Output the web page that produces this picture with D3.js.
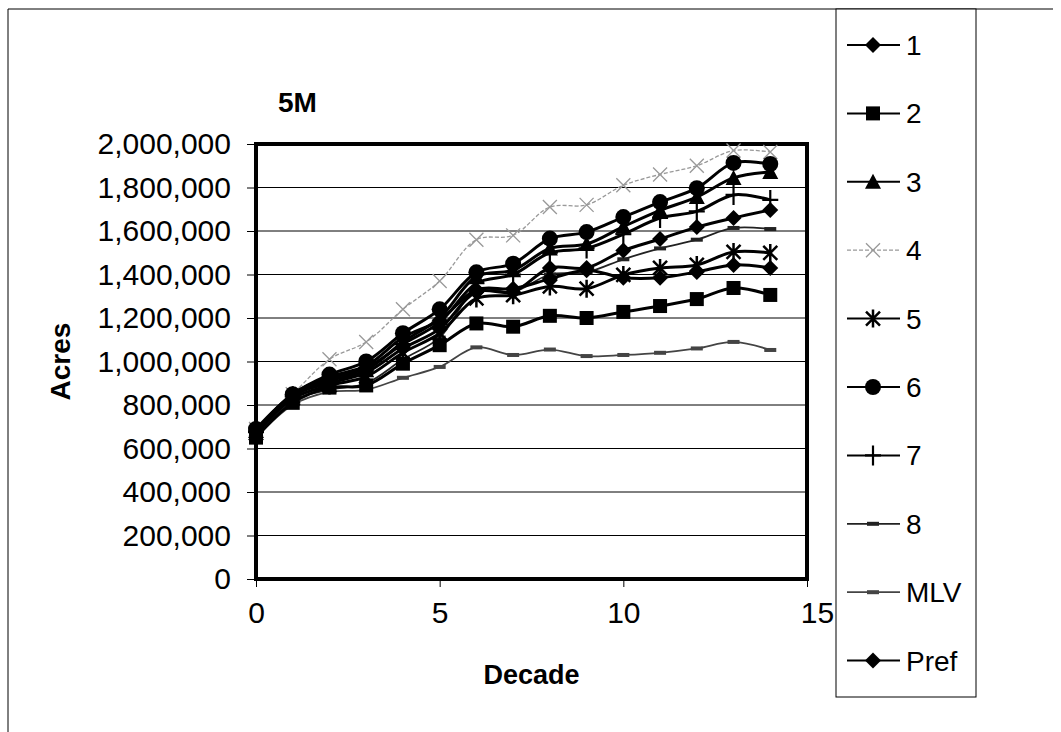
<!DOCTYPE html>
<html>
<head>
<meta charset="utf-8">
<script src="https://cdn.jsdelivr.net/npm/d3@7"></script>
<style>
    body { margin: 0; background: #fff; }
    svg { display: block; font-family: Arial, "Liberation Sans", sans-serif; }
</style>
</head>
<body>
<div id="chart"></div>
<script>
const decades = [0, 1, 2, 3, 4, 5, 6, 7, 8, 9, 10, 11, 12, 13, 14];
const yTicks = [0, 200000, 400000, 600000, 800000, 1000000, 1200000, 1400000, 1600000, 1800000, 2000000];
const xTicks = [0, 5, 10, 15];

const seriesNames = ["1", "2", "3", "4", "5", "6", "7", "8", "MLV", "Pref"];

// values in acres
const s1 = [680000, 850000, 930000, 980000, 1110000, 1190000, 1330000, 1335000, 1380000, 1420000, 1385000, 1385000, 1412000, 1444000, 1430000];
const s2 = [650000, 810000, 880000, 890000, 990000, 1075000, 1175000, 1160000, 1210000, 1200000, 1228000, 1255000, 1287000, 1338000, 1306000];
const s3 = [680000, 840000, 910000, 960000, 1090000, 1200000, 1390000, 1420000, 1520000, 1540000, 1620000, 1695000, 1756000, 1844000, 1871000];
const s4 = [690000, 850000, 1010000, 1090000, 1240000, 1370000, 1560000, 1580000, 1710000, 1720000, 1810000, 1860000, 1900000, 1970000, 1963000];
const s5 = [670000, 830000, 890000, 930000, 1040000, 1130000, 1290000, 1305000, 1345000, 1335000, 1398000, 1430000, 1444000, 1504000, 1499000];
const s6 = [690000, 850000, 940000, 1000000, 1130000, 1240000, 1410000, 1450000, 1565000, 1595000, 1664000, 1733000, 1797000, 1913000, 1908000];
const s7 = [675000, 840000, 920000, 970000, 1080000, 1180000, 1360000, 1400000, 1500000, 1520000, 1585000, 1660000, 1690000, 1766000, 1743000];
const s8 = [660000, 820000, 870000, 900000, 1010000, 1110000, 1330000, 1320000, 1400000, 1410000, 1470000, 1520000, 1560000, 1614000, 1609000];
const sMLV = [650000, 800000, 860000, 870000, 925000, 975000, 1065000, 1030000, 1055000, 1025000, 1030000, 1040000, 1060000, 1090000, 1053000];
const sPref = [680000, 845000, 900000, 950000, 1060000, 1150000, 1320000, 1320000, 1430000, 1430000, 1510000, 1563000, 1618000, 1660000, 1697000];

const seriesValues = [s1, s2, s3, s4, s5, s6, s7, s8, sMLV, sPref];

const styles = {
    "1":    { marker: "diamond",  stroke: "#000", width: 3, dash: null },
    "2":    { marker: "square",   stroke: "#000", width: 3, dash: null },
    "3":    { marker: "triangle", stroke: "#000", width: 3, dash: null },
    "4":    { marker: "x",        stroke: "#999", width: 1.3, dash: "4,2" },
    "5":    { marker: "star",     stroke: "#000", width: 3, dash: null },
    "6":    { marker: "circle",   stroke: "#000", width: 3, dash: null },
    "7":    { marker: "plus",     stroke: "#000", width: 3, dash: null },
    "8":    { marker: "dash",     stroke: "#222", width: 1.8, dash: null },
    "MLV":  { marker: "dash",     stroke: "#444", width: 1.8, dash: null },
    "Pref": { marker: "diamond",  stroke: "#000", width: 3, dash: null }
};

const width = 1061, height = 732;
const plot = { left: 256, right: 807, top: 144, bottom: 579 };

const svg = d3.select("#chart").append("svg")
    .attr("width", width)
    .attr("height", height);

// outer frame (top and left only visible)
svg.append("line").attr("x1", 8).attr("x2", 1053).attr("y1", 9).attr("y2", 9)
    .attr("stroke", "#000").attr("stroke-width", 1);
svg.append("line").attr("x1", 8).attr("x2", 8).attr("y1", 9).attr("y2", 732)
    .attr("stroke", "#000").attr("stroke-width", 1);

const x = d3.scaleLinear().domain([0, 15]).range([plot.left, plot.right]);
const y = d3.scaleLinear().domain([0, 2000000]).range([plot.bottom, plot.top]);

// gridlines
svg.append("g")
    .selectAll("line")
    .data(yTicks.filter(t => t > 0 && t < 2000000))
    .enter().append("line")
    .attr("x1", plot.left).attr("x2", plot.right)
    .attr("y1", d => y(d)).attr("y2", d => y(d))
    .attr("stroke", "#000").attr("stroke-width", 1);

// axes
const yAxis = svg.append("g")
    .attr("transform", `translate(${plot.left},0)`)
    .call(d3.axisLeft(y).tickValues(yTicks).tickFormat(d3.format(",")).tickSize(9).tickPadding(16));
const xAxis = svg.append("g")
    .attr("transform", `translate(0,${plot.bottom})`)
    .call(d3.axisBottom(x).tickValues(xTicks).tickSize(8).tickPadding(14));

[yAxis, xAxis].forEach(a => {
    a.select(".domain").remove();
    a.selectAll("line").attr("stroke", "#000");
    a.selectAll("text")
        .attr("fill", "#000")
        .style("font-size", "30px")
        .style("font-family", "Arial, 'Liberation Sans', sans-serif");
});
xAxis.selectAll("text").attr("dy", "0.72em");
xAxis.selectAll(".tick").filter(d => d === 15).select("text").attr("x", 10);

// plot frame
svg.append("rect")
    .attr("x", plot.left).attr("y", plot.top)
    .attr("width", plot.right - plot.left).attr("height", plot.bottom - plot.top)
    .attr("fill", "none").attr("stroke", "#000").attr("stroke-width", 4);

function drawMarker(g, type, cx, cy, color) {
    const s = 8;
    if (type === "diamond") {
        g.append("path").attr("d", `M${cx},${cy - s}L${cx + s},${cy}L${cx},${cy + s}L${cx - s},${cy}Z`).attr("fill", color);
    } else if (type === "square") {
        g.append("rect").attr("x", cx - 7).attr("y", cy - 7).attr("width", 14).attr("height", 14).attr("fill", color);
    } else if (type === "triangle") {
        g.append("path").attr("d", `M${cx},${cy - s}L${cx + s},${cy + 7}L${cx - s},${cy + 7}Z`).attr("fill", color);
    } else if (type === "circle") {
        g.append("circle").attr("cx", cx).attr("cy", cy).attr("r", 8).attr("fill", color);
    } else if (type === "x") {
        g.append("path").attr("d", `M${cx - 7},${cy - 7}L${cx + 7},${cy + 7}M${cx + 7},${cy - 7}L${cx - 7},${cy + 7}`)
            .attr("stroke", color).attr("stroke-width", 1.3).attr("fill", "none");
    } else if (type === "star") {
        g.append("path").attr("d", `M${cx - 7},${cy - 7}L${cx + 7},${cy + 7}M${cx + 7},${cy - 7}L${cx - 7},${cy + 7}M${cx},${cy - 9}L${cx},${cy + 9}`)
            .attr("stroke", color).attr("stroke-width", 2.5).attr("fill", "none");
    } else if (type === "plus") {
        g.append("path").attr("d", `M${cx - 8},${cy}L${cx + 8},${cy}M${cx},${cy - 10}L${cx},${cy + 10}`)
            .attr("stroke", color).attr("stroke-width", 2.2).attr("fill", "none");
    } else if (type === "dash") {
        g.append("rect").attr("x", cx - 6).attr("y", cy - 2).attr("width", 12).attr("height", 4).attr("fill", color);
    }
}

const line = d3.line()
    .x((d, i) => x(decades[i]))
    .y(d => y(d))
    .curve(d3.curveCatmullRom);

const series = seriesNames.map((name, i) => ({ name, values: seriesValues[i] }));

// draw order: thin lines behind
const order = ["MLV", "8", "4", "2", "5", "1", "Pref", "7", "3", "6"];
order.forEach(name => {
    const s = series.find(d => d.name === name);
    const st = styles[name];
    const g = svg.append("g");
    g.append("path")
        .datum(s.values)
        .attr("fill", "none")
        .attr("stroke", st.stroke)
        .attr("stroke-width", st.width)
        .attr("stroke-dasharray", st.dash)
        .attr("d", line);
    s.values.forEach((v, i) => drawMarker(g, st.marker, x(decades[i]), y(v), st.stroke));
});

// titles
svg.append("text").attr("x", 278).attr("y", 112)
    .style("font-size", "28px").style("font-weight", "bold").text("5M");
svg.append("text")
    .attr("transform", `translate(70,${(plot.top + plot.bottom) / 2}) rotate(-90)`)
    .attr("text-anchor", "middle")
    .style("font-size", "28px").style("font-weight", "bold").text("Acres");
svg.append("text").attr("x", (plot.left + plot.right) / 2).attr("y", 684)
    .attr("text-anchor", "middle")
    .style("font-size", "27px").style("font-weight", "bold").text("Decade");

// legend
const legend = svg.append("g");
legend.append("rect")
    .attr("x", 836).attr("y", 9).attr("width", 140).attr("height", 688)
    .attr("fill", "#fff").attr("stroke", "#000").attr("stroke-width", 1);

seriesNames.forEach((name, i) => {
    const st = styles[name];
    const ly = 45 + i * 68.4;
    const g = legend.append("g");
    g.append("line")
        .attr("x1", 847).attr("x2", 900).attr("y1", ly).attr("y2", ly)
        .attr("stroke", st.stroke)
        .attr("stroke-width", Math.min(st.width, 2))
        .attr("stroke-dasharray", st.dash);
    drawMarker(g, st.marker, 873, ly, st.stroke);
    g.append("text")
        .attr("x", 906).attr("y", ly + 10)
        .style("font-size", "28px")
        .text(name);
});
</script>
</body>
</html>
